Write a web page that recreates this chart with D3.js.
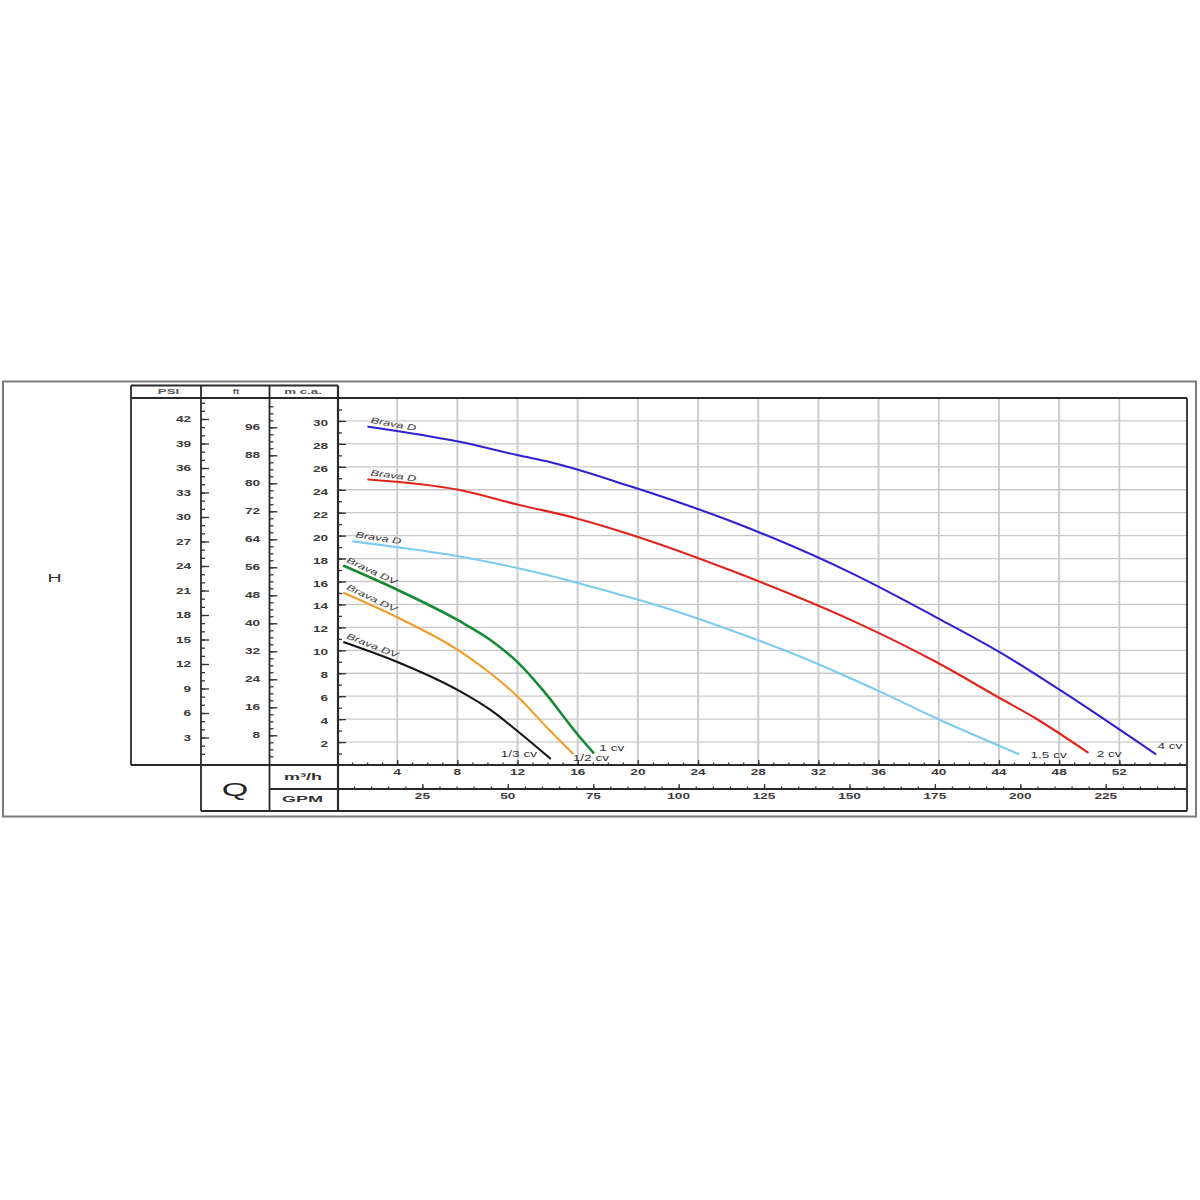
<!DOCTYPE html>
<html><head><meta charset="utf-8">
<script src="https://cdn.jsdelivr.net/npm/d3@7"></script>
<style>html,body{margin:0;background:#fff}</style>
</head><body><svg id="c" width="1200" height="1200"></svg>
<script>
// ---------- data ----------
const flowLabels = [4,8,12,16,20,24,28,32,36,40,44,48,52];          // m³/h
const gpmLabels  = [25,50,75,100,125,150,175,200,225];               // GPM
const mcaLabels  = [2,4,6,8,10,12,14,16,18,20,22,24,26,28,30];       // m c.a.
const ftLabels   = [8,16,24,32,40,48,56,64,72,80,88,96];             // ft
const psiLabels  = [3,6,9,12,15,18,21,24,27,30,33,36,39,42];         // PSI

const seriesNames  = ["Brava D","Brava D","Brava D","Brava DV","Brava DV","Brava DV"];
const seriesPower  = ["4 cv","2 cv","1.5 cv","1 cv","1/2 cv","1/3 cv"];
const seriesColors = ["#3020d0","#e0241c","#7ccbef","#168a32","#f39c2c","#151515"];

// [Q m³/h, H m c.a.]
const brava4cv  = [[2.08,29.5],[8.07,28.2],[12.05,27.0],[14.2,26.4],[19.5,24.3],[26.5,21.1],[34.4,16.6],[39.8,12.9],[44.1,9.8],[48.1,6.5],[54.4,0.96]];
const brava2cv  = [[2.08,24.9],[8.07,24.0],[12.05,22.7],[15.94,21.5],[19.5,20.1],[26.5,16.8],[34.4,12.5],[39.8,9.0],[44.1,5.8],[46.4,4.1],[49.9,1.1]];
const brava15cv = [[1.08,19.5],[3.97,19.0],[8.07,18.2],[12.05,17.15],[15.94,15.9],[19.5,14.6],[21.1,14.0],[26.5,11.6],[31.8,8.9],[36.1,6.4],[39.8,4.1],[45.3,0.96]];
const brava1cv  = [[0.47,17.35],[3.97,15.3],[8.07,12.6],[10.2,10.9],[12.05,8.9],[13.7,6.5],[15.94,2.75],[17.04,1.07]];
const brava12cv = [[0.47,15.0],[3.97,12.9],[8.07,10.0],[10.2,8.0],[12.05,5.9],[13.94,3.3],[15.67,1.0]];
const brava13cv = [[0.47,10.7],[3.97,9.0],[8.07,6.5],[10.2,4.8],[12.05,2.9],[14.16,0.58]];
const seriesData = [brava4cv,brava2cv,brava15cv,brava1cv,brava12cv,brava13cv];

// ---------- layout ----------
const endOffsets = [[2,-5,"start"],[9,5,"start"],[12,4,"start"],[6,-2,"start"],[0,7,"start"],[-13,-1,"end"]];
const FONT = "Liberation Sans, Arial, sans-serif";
const SX = 1.6;

const svg = d3.select("#c");
svg.append("rect").attr("width",1200).attr("height",1200).attr("fill","#fff");

const x  = d3.scaleLinear().domain([0,56.5]).range([337,1187]);
const xg = d3.scaleLinear().domain([0,56.5/0.2271]).range([337,1187]);
const y  = d3.scaleLinear().domain([0,32]).range([765,398]);
const yPsi = d3.scaleLinear().domain([0,42]).range([762,419]);
const yFt  = d3.scaleLinear().domain([0,96]).range([763.3,427.3]);

function txt(px,py,s,o={}){
  const sx = o.sx||SX;
  const rot = o.rot ? ` rotate(${o.rot})` : "";
  return svg.append("text")
    .attr("transform",`translate(${px},${py})${rot} scale(${sx},1)`)
    .attr("font-family",FONT).attr("font-size",o.size||8.5)
    .attr("font-weight",o.weight||"normal")
    .attr("font-style",o.style||"normal")
    .attr("text-anchor",o.anchor||"middle")
    .attr("fill",o.fill||"#333").text(s);
}

// outer frame
svg.append("rect").attr("x",3).attr("y",381.5).attr("width",1193).attr("height",435)
  .attr("fill","none").attr("stroke","#7a7a7a").attr("stroke-width",2);

// grid
const grid = svg.append("g");
grid.selectAll(".gv").data(flowLabels).join("line")
  .attr("x1",d=>x(d)).attr("x2",d=>x(d)).attr("y1",y(0)).attr("y2",y(32))
  .attr("stroke","#cdcdcd").attr("stroke-width",2);
grid.selectAll(".gh").data(mcaLabels).join("line")
  .attr("x1",x(0)).attr("x2",x(56.5)).attr("y1",d=>y(d)).attr("y2",d=>y(d))
  .attr("stroke","#c8c8c8").attr("stroke-width",1.3);

// axis helpers
function ticks(axis, tx, ty){
  const g = svg.append("g").attr("transform",`translate(${tx},${ty})`).call(axis);
  g.select(".domain").remove();
  g.selectAll("line").attr("stroke","#333").attr("stroke-width",1.3);
  g.selectAll("text").remove();
  return g;
}
const lab = {weight:"bold",fill:"#3a3a3a"};
// PSI
ticks(d3.axisRight(yPsi).tickValues(d3.range(1,45)).tickSize(4),201,0);
ticks(d3.axisRight(yPsi).tickValues(psiLabels).tickSize(8),201,0);
psiLabels.forEach(v=>txt(191,yPsi(v)+3,v,{...lab,anchor:"end"}));
// ft
ticks(d3.axisRight(yFt).tickValues(d3.range(2,103,2)).tickSize(4),269.5,0);
ticks(d3.axisRight(yFt).tickValues(ftLabels).tickSize(8),269.5,0);
ftLabels.forEach(v=>txt(260,yFt(v)+3,v,{...lab,anchor:"end"}));
// m c.a.
ticks(d3.axisRight(y).tickValues(d3.range(1,32)).tickSize(4),338,0);
ticks(d3.axisRight(y).tickValues(mcaLabels).tickSize(8),338,0);
mcaLabels.forEach(v=>txt(328,y(v)+5,v,{...lab,anchor:"end"}));
// m³/h
ticks(d3.axisTop(x).tickValues(d3.range(1,57)).tickSize(2.5),0,765);
ticks(d3.axisTop(x).tickValues(flowLabels).tickSize(5),0,765);
flowLabels.forEach(v=>txt(x(v),774.5,v,lab));
// GPM
ticks(d3.axisTop(xg).tickValues(d3.range(5,246,5)).tickSize(2.5),0,789);
ticks(d3.axisTop(xg).tickValues(gpmLabels).tickSize(5),0,789);
gpmLabels.forEach(v=>txt(xg(v),799,v,lab));

// curves
const line = d3.line().x(d=>x(d[0])).y(d=>y(d[1])).curve(d3.curveMonotoneX);
seriesData.forEach((s,i)=>{
  svg.append("path").datum(s).attr("d",line).attr("fill","none")
    .attr("stroke",seriesColors[i]).attr("stroke-width",i===3?2.6:2.1)
    .attr("stroke-linecap","round");
  const p0=s[0], p1=s[1];
  const ang = Math.atan2(y(p1[1])-y(p0[1]), x(p1[0])-x(p0[0]))*180/Math.PI;
  txt(x(p0[0])+2, y(p0[1])-4, seriesNames[i], {anchor:"start",style:"italic",rot:ang+1,fill:"#3a3a3a",sx:1.5});
  const pe=s[s.length-1], o=endOffsets[i];
  txt(x(pe[0])+o[0], y(pe[1])+o[1], seriesPower[i], {anchor:o[2],fill:"#333"});
});

// frame lines
const L=(x1,y1,x2,y2,w)=>svg.append("line").attr("x1",x1).attr("y1",y1).attr("x2",x2).attr("y2",y2)
  .attr("stroke","#2a2a2a").attr("stroke-width",w||1.8);
L(131,385.5,338,385.5);
L(131,398,1187,398);
L(131,385.5,131,765);
L(201,385.5,201,811);
L(269.5,385.5,269.5,811);
L(338,385.5,338,811,2.2);
L(1187,398,1187,811);
L(131,765,1187,765);
L(269.5,789,1187,789);
L(201,811,1187,811);

// headers & titles
txt(168.5,393.5,"PSI",{size:7,weight:"bold",sx:1.9,fill:"#555"});
txt(236,393.5,"ft",{size:7.5,weight:"bold",sx:1.3,fill:"#555"});
txt(303,393.5,"m c.a.",{size:7,weight:"bold",sx:1.9,fill:"#555"});
txt(54.5,582,"H",{size:11.5,sx:1.7,fill:"#333"});
txt(235,796,"Q",{size:18,sx:1.9,fill:"#222"});
txt(303,779.5,"m³/h",{size:9.5,weight:"bold",sx:1.9,fill:"#333"});
txt(302.5,801.5,"GPM",{size:9.5,weight:"bold",sx:1.9,fill:"#333"});
</script></body></html>
